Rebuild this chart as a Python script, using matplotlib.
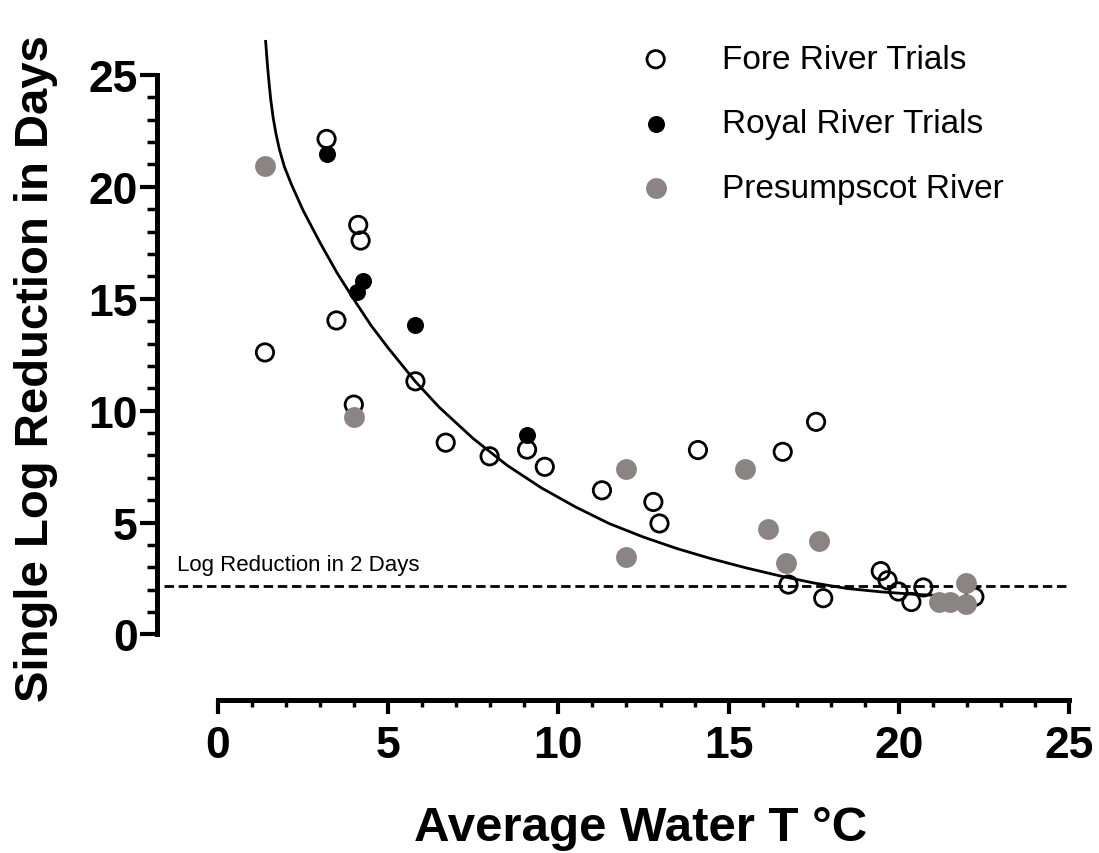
import numpy as np
import matplotlib
matplotlib.use('Agg')
import matplotlib.pyplot as plt
from matplotlib.ticker import MultipleLocator, FixedLocator

plt.rcParams['font.family'] = ['Liberation Sans', 'DejaVu Sans']

# Fore River Trials (open circles)
fore_x = [1.38, 3.19, 4.12, 4.19, 3.48, 5.80, 3.99, 6.69, 7.98, 9.08, 9.60, 11.28, 12.79,
          12.97, 14.10, 16.59, 17.57, 16.76, 17.78, 19.47, 19.67, 19.99, 20.37, 20.72, 22.22]
fore_y = [12.60, 22.14, 18.30, 17.60, 14.03, 11.31, 10.27, 8.57, 7.96, 8.26, 7.49, 6.44, 5.92,
          4.96, 8.24, 8.16, 9.50, 2.23, 1.62, 2.83, 2.42, 1.92, 1.45, 2.10, 1.68]

# Royal River Trials (black)
royal_x = [3.19, 4.25, 4.09, 5.78, 9.08]
royal_y = [21.47, 15.80, 15.30, 13.84, 8.90]

# Presumpscot River (grey)
pres_x = [1.38, 3.99, 11.99, 11.99, 15.48, 16.15, 17.66, 16.69, 21.18, 21.50, 21.97, 21.97]
pres_y = [20.95, 9.72, 7.38, 3.44, 7.41, 4.70, 4.18, 3.20, 1.45, 1.45, 1.38, 2.30]

# fitted decay curve
curve_x = [1.40, 1.45, 1.50, 1.55, 1.62, 1.70, 1.80, 1.95, 2.16, 2.50, 3.00, 3.50, 4.00,
           4.50, 5.00, 5.80, 6.50, 7.50, 8.50, 9.50, 10.50, 11.50, 12.50, 13.50, 14.50,
           15.50, 16.50, 17.50, 18.50, 19.50, 20.50, 21.70]
curve_y = [26.50, 25.50, 24.65, 23.90, 23.10, 22.40, 21.70, 20.90, 20.10, 18.95, 17.50, 16.15,
           14.95, 13.80, 12.80, 11.30, 10.15, 8.75, 7.55, 6.55, 5.70, 4.95, 4.35, 3.83, 3.38,
           2.98, 2.62, 2.30, 2.05, 1.90, 1.79, 1.70]

threshold = 2.15
threshold_label = 'Log Reduction in 2 Days'
labels = ['Fore River Trials', 'Royal River Trials', 'Presumpscot River']

grey = '#8a8484'

fig = plt.figure(figsize=(10.99, 8.54), dpi=100)
ax = fig.add_axes([0.1433, 0.1792, 0.8294, 0.7843])
ax.set_xlim(-1.777, 25)
ax.set_ylim(-2.927, 27)

ax.hlines(threshold, -1.6, 24.9, colors='black', linewidth=2.0,
          linestyles=(0, (3.4, 1.7)), zorder=2)
ax.text(-1.21, 2.86, threshold_label, fontsize=16, va='baseline')

ax.plot(curve_x, curve_y, color='black', linewidth=2.0, zorder=3)

h1 = ax.scatter(fore_x, fore_y, s=156, facecolors='none', edgecolors='black',
                linewidths=2.0, zorder=4, label=labels[0])
h2 = ax.scatter(royal_x, royal_y, s=150, color='black', linewidths=0, zorder=5, label=labels[1])
h3 = ax.scatter(pres_x, pres_y, s=225, color=grey, linewidths=0, zorder=6, label=labels[2])

ax.legend(handles=[h1, h2, h3], loc='upper left', bbox_to_anchor=(639 / 1099, 1 - 45 / 854),
          bbox_transform=fig.transFigure, frameon=False, fontsize=24, handlelength=1.0,
          handletextpad=1.5, labelspacing=1.0, borderpad=0, borderaxespad=0, scatterpoints=1)

for side in ['top', 'right']:
    ax.spines[side].set_visible(False)
for side in ['left', 'bottom']:
    ax.spines[side].set_linewidth(3.6)
    ax.spines[side].set_bounds(0, 25)

ax.xaxis.set_major_locator(MultipleLocator(5))
ax.xaxis.set_minor_locator(FixedLocator(np.arange(0, 26)))
ax.yaxis.set_major_locator(MultipleLocator(5))
ax.yaxis.set_minor_locator(FixedLocator(np.arange(0, 26)))
ax.tick_params(axis='x', which='major', length=10, width=3, pad=8, labelsize=32)
ax.tick_params(axis='x', which='minor', length=5, width=2.5)
ax.tick_params(axis='y', which='major', length=12.6, width=3, pad=1.5, labelsize=32)
ax.tick_params(axis='y', which='minor', length=7.3, width=2.5)
for t in ax.get_xticklabels() + ax.get_yticklabels():
    t.set_fontweight('bold')

fig.text(641 / 1099, 1 - 841 / 854, 'Average Water T °C', fontsize=35.5, fontweight='bold',
         ha='center', va='baseline')
fig.text(36 / 1099, 1 - 368.5 / 854, 'Single Log Reduction in Days', fontsize=34,
         fontweight='bold', rotation=90, ha='center', va='center')

fig.savefig('out.png', dpi=100)
